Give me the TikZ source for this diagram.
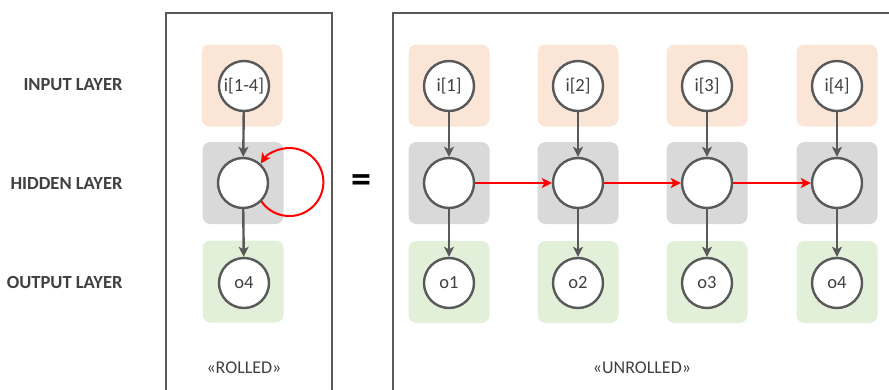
\documentclass[tikz,border=0pt]{standalone}
\usepackage{fontspec}
\setmainfont{Carlito}
\usetikzlibrary{arrows.meta}
\definecolor{inputfill}{HTML}{FBE5D6}
\definecolor{hiddenfill}{HTML}{D9D9D9}
\definecolor{outputfill}{HTML}{E2F0D9}
\definecolor{linegray}{HTML}{595959}
\definecolor{textgray}{HTML}{404040}
\begin{document}
\begin{tikzpicture}[x=1pt,y=1pt,
  unit/.style={circle,draw=linegray,line width=2.4pt,fill=white,minimum size=50pt,inner sep=0pt,text=textgray,font=\fontsize{18.5}{20}\selectfont},
  layerbg/.style={rounded corners=8pt,minimum width=81pt,minimum height=82pt,inner sep=0pt},
  inputbg/.style={layerbg,fill=inputfill},
  hiddenbg/.style={layerbg,fill=hiddenfill},
  outputbg/.style={layerbg,fill=outputfill},
  frame/.style={draw=linegray,line width=2pt},
  flow/.style={draw=linegray,line width=2.4pt,-{Stealth[length=10pt,width=10pt,inset=2.5pt]}},
  recur/.style={draw=red,line width=2pt,-{Stealth[length=10pt,width=10pt,inset=2.5pt]}},
  layername/.style={anchor=east,text=textgray,font=\fontsize{18.5}{20}\selectfont\bfseries},
  caption/.style={text=textgray,font=\fontsize{18}{20}\selectfont}]
\useasboundingbox (0,0) rectangle (889,-389);
\clip (0,0) rectangle (889,-389);
% layer names
\node[layername] (lin) at (126,-85) {INPUT LAYER};
\node[layername] (lhid) at (126,-183) {HIDDEN LAYER};
\node[layername] (lout) at (126,-282) {OUTPUT LAYER};
% rolled
\draw[frame] (166,-13) rectangle (332,-400);
\node[inputbg] (bgi0) at (242,-85.5) {};
\node[hiddenbg] (bgh0) at (243,-183) {};
\node[outputbg] (bgo0) at (243,-281.5) {};
\node[unit] (i0) at (244,-86) {i[1-4]};
\node[unit] (h0) at (243,-183) {};
\node[unit] (o0) at (244,-283) {o4};
\draw[flow] (i0) -- (h0);
\draw[flow] (h0) -- (o0);
\draw[recur] (h0.-45) arc[start angle=-145,end angle=147,radius=34];
\node[caption] (rolled) at (244,-368) {«ROLLED»};
\node[font=\fontsize{40}{40}\selectfont\bfseries] (eq) at (361,-184) {=};
% unrolled
\draw[frame] (393,-13) rectangle (900,-400);
\foreach \k/\x in {1/449,2/578,3/707,4/837} {
  \node[inputbg] (bgi\k) at (\x,-85.5) {};
  \node[hiddenbg] (bgh\k) at (\x,-183) {};
  \node[outputbg] (bgo\k) at (\x,-282) {};
  \node[unit] (i\k) at (\x,-86) {i[\k]};
  \node[unit] (h\k) at (\x,-183) {};
  \node[unit] (o\k) at (\x,-283) {o\k};
  \draw[flow] (i\k) -- (h\k);
  \draw[flow] (h\k) -- (o\k);
}
\foreach \a/\b in {1/2,2/3,3/4} \draw[recur] (h\a) -- (h\b);
\node[caption] (unrolled) at (642,-368) {«UNROLLED»};
\end{tikzpicture}
\end{document}
